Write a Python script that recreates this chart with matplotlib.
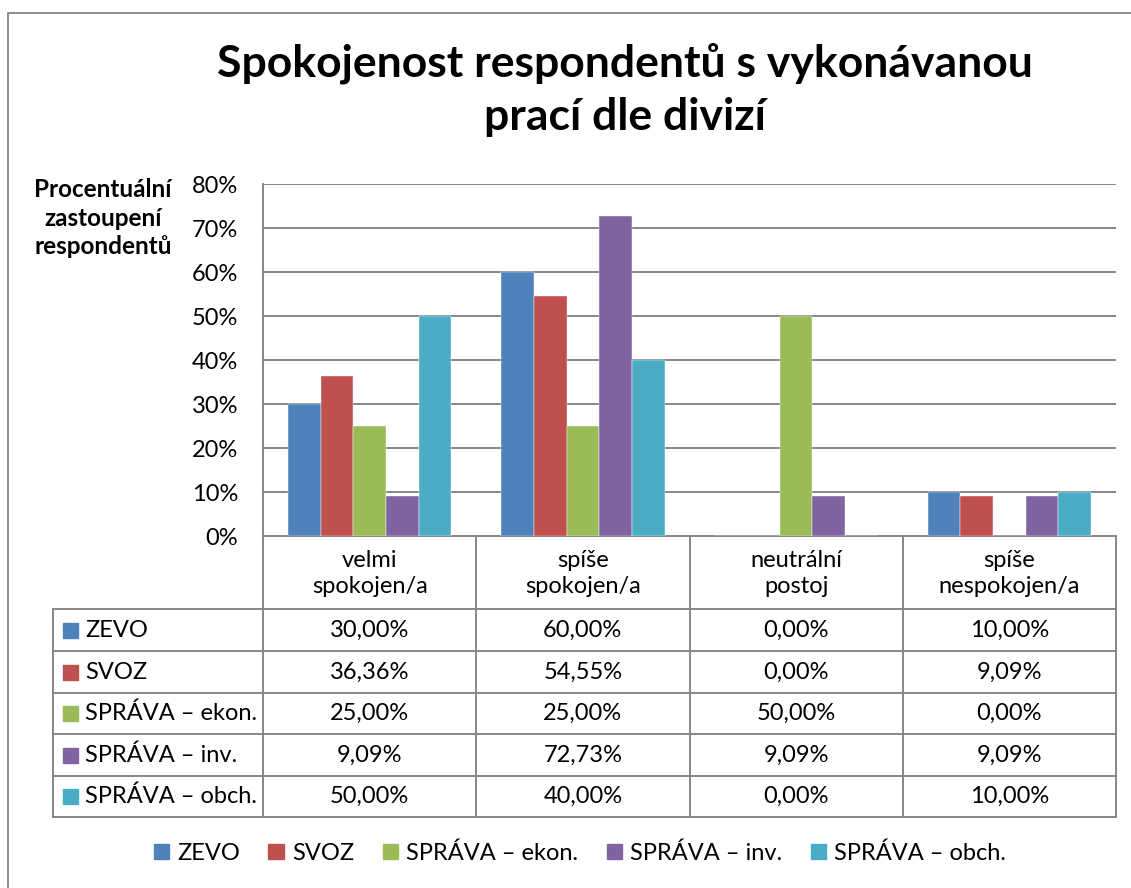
import matplotlib
matplotlib.use("Agg")
import matplotlib.pyplot as plt
from matplotlib.patches import Patch, Rectangle
import numpy as np

plt.rcParams['font.family'] = ['Lato', 'DejaVu Sans']

# data
categories = ["velmi\nspokojen/a", "spíše\nspokojen/a", "neutrální\npostoj", "spíše\nnespokojen/a"]
series_names = ["ZEVO", "SVOZ", "SPRÁVA – ekon.", "SPRÁVA – inv.", "SPRÁVA – obch."]
zevo = [30.00, 60.00, 0.00, 10.00]
svoz = [36.36, 54.55, 0.00, 9.09]
sprava_ekon = [25.00, 25.00, 50.00, 0.00]
sprava_inv = [9.09, 72.73, 9.09, 9.09]
sprava_obch = [50.00, 40.00, 0.00, 10.00]
all_series = [zevo, svoz, sprava_ekon, sprava_inv, sprava_obch]
colors = ["#4F81BD", "#C0504D", "#9BBB59", "#8064A2", "#4BACC6"]
yticks = [0, 10, 20, 30, 40, 50, 60, 70, 80]

W, H = 1131, 888
fig = plt.figure(figsize=(W / 100, H / 100), dpi=100)
grid_col = "#868686"

# plot area (pixel box)
px_l, px_r, px_t, px_b = 263, 1116, 184, 536
ax = fig.add_axes([px_l / W, 1 - px_b / H, (px_r - px_l) / W, (px_b - px_t) / H])

x = np.arange(len(categories))
n = len(all_series)
bw = 0.767 / n
for i, (vals, c) in enumerate(zip(all_series, colors)):
    ax.bar(x + (i - (n - 1) / 2) * bw, vals, width=bw, color=c, zorder=3,
           edgecolor='white', linewidth=0.3)

ax.set_xlim(-0.5, len(categories) - 0.5)
ax.set_ylim(0, 80)
ax.set_yticks(yticks)
ax.set_yticklabels([f"{t}%" for t in yticks], fontsize=17)
ax.tick_params(axis='y', length=0, pad=18)
ax.set_xticks([])
ax.grid(axis='y', color=grid_col, linewidth=1.4, zorder=0)
for s in ["top", "right", "bottom"]:
    ax.spines[s].set_visible(False)
ax.spines["left"].set_color(grid_col)
ax.spines["left"].set_linewidth(1.4)

# overlay in pixel coordinates for table, frame, labels
ov = fig.add_axes([0, 0, 1, 1], zorder=-1)
ov.set_xlim(0, W)
ov.set_ylim(H, 0)
ov.axis("off")

lw = 1.4
# chart frame (left and top visible)
ov.plot([8, 8, W + 5], [H + 5, 13, 13], color="#8c8c8c", lw=lw)

# table
col_edges = np.linspace(px_l, px_r, len(categories) + 1)
tab_left = 53
row_edges = [609, 651, 693, 734, 776, 817]
for ce in col_edges:
    ov.plot([ce, ce], [px_b, row_edges[-1]], color=grid_col, lw=lw)
ov.plot([tab_left, tab_left], [row_edges[0], row_edges[-1]], color=grid_col, lw=lw)
ov.plot([px_l, px_r], [px_b, px_b], color=grid_col, lw=lw)
for re in row_edges:
    ov.plot([tab_left, px_r], [re, re], color=grid_col, lw=lw)

fs = 17
for j, cat in enumerate(categories):
    cx = (col_edges[j] + col_edges[j + 1]) / 2
    ov.text(cx, (px_b + row_edges[0]) / 2 + 1, cat, ha='center', va='center',
            fontsize=fs, linespacing=1.35)
for i, (name, vals, c) in enumerate(zip(series_names, all_series, colors)):
    cy = (row_edges[i] + row_edges[i + 1]) / 2
    ov.add_patch(Rectangle((63, cy - 7.5), 15, 15, color=c))
    ov.text(85, cy, name, ha='left', va='center', fontsize=fs)
    for j, v in enumerate(vals):
        cx = (col_edges[j] + col_edges[j + 1]) / 2
        ov.text(cx, cy, f"{v:.2f}".replace('.', ',') + "%", ha='center',
                va='center', fontsize=fs)

# title and y label
ov.text(625, 90, "Spokojenost respondentů s vykonávanou\nprací dle divizí",
        ha='center', va='center', fontsize=32, fontweight='bold', linespacing=1.38)
ov.text(103, 218, "Procentuální\nzastoupení\nrespondentů", ha='center', va='center',
        fontsize=17.5, fontweight='bold', linespacing=1.3)

# legend
handles = [Patch(color=c, label=s) for c, s in zip(colors, series_names)]
fig.legend(handles=handles, loc='center', bbox_to_anchor=(580 / W, 1 - 853 / H),
           ncol=5, frameon=False, fontsize=17, handlelength=0.65, handleheight=0.65,
           handletextpad=0.35, columnspacing=1.2)

fig.savefig("out.png", dpi=100)
